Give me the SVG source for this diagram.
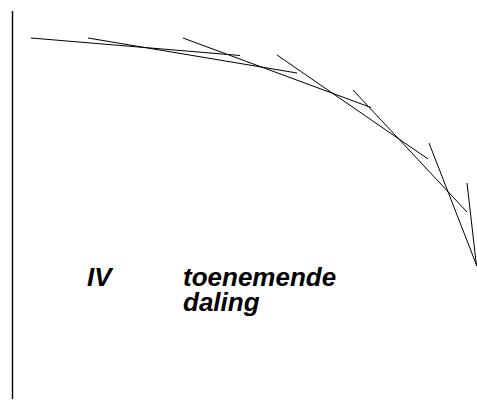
<svg xmlns="http://www.w3.org/2000/svg" width="477" height="401" viewBox="0 0 477 401">
<style>
.ln{stroke:#000;stroke-width:1;fill:none}
.ax{stroke:#000;stroke-width:1.4;fill:none}
.t{font-family:"Liberation Sans",Arial,sans-serif;font-weight:bold;font-style:italic;font-size:26px;fill:#000}
</style>
<rect width="477" height="401" fill="#fff"/>
<g id="axis"><line class="ax" x1="12.5" y1="11" x2="12.5" y2="399"/></g>
<g id="connectors">
<line class="ln" x1="31" y1="38" x2="240" y2="55.5"/>
<line class="ln" x1="88" y1="38" x2="297" y2="73"/>
<line class="ln" x1="183" y1="38" x2="371" y2="107.5"/>
<line class="ln" x1="277" y1="55" x2="428" y2="159"/>
<line class="ln" x1="353" y1="90" x2="467" y2="212"/>
<line class="ln" x1="429" y1="143" x2="476.5" y2="265"/>
<line class="ln" x1="467" y1="183" x2="476.5" y2="266"/>
</g>
<g id="label-iv"><text class="t" x="87" y="286">IV</text></g>
<g id="label-text"><text class="t" x="183" y="286">toenemende</text><text class="t" x="183" y="311">daling</text></g>
</svg>
